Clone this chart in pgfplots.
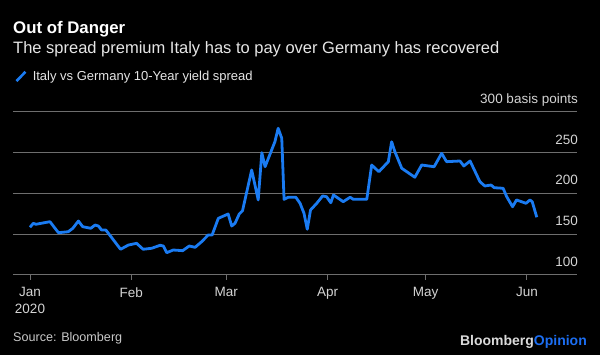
\documentclass[border=0pt]{standalone}
\usepackage{pgfplots}
\pgfplotsset{compat=1.18}
\usepackage{fontspec}
\setmainfont{Liberation Sans}
\definecolor{lineblue}{HTML}{1A7BF2}
\definecolor{gridgray}{HTML}{6E6E6E}
\definecolor{ticktext}{HTML}{D4D4D4}
\definecolor{subgray}{HTML}{E6E6E6}
\definecolor{srcgray}{HTML}{C8C8C8}
\definecolor{bbgray}{HTML}{DADADA}
\definecolor{opblue}{HTML}{1C6EF2}

\pgfplotstableread{
day value
0 158.4
1.0 163.3
1.8 162.1
6.1 165.3
8.7 151.8
11.7 153.0
13.1 157.2
14.8 166.1
16.1 159.2
18.6 157.2
19.9 161.2
20.9 160.0
21.9 155.1
23.2 155.1
27.7 131.5
30.1 136.7
32.6 138.8
34.6 131.5
37.2 132.7
39.8 136.4
40.8 135.5
41.8 127.3
43.8 130.6
46.7 129.8
48.7 135.5
50.5 133.9
52.5 140.8
54.5 149.0
55.7 149.0
57.6 169.4
60.6 174.7
61.7 160.0
62.7 163.3
64.0 174.7
65.0 178.7
67.8 228.6
69.8 191.9
70.9 249.8
71.9 232.6
74.9 263.2
75.9 279.7
77.0 267.4
77.7 192.7
79.0 195.2
81.3 195.2
82.6 187.8
83.8 175.6
84.8 156.0
85.8 179.6
87.7 187.8
89.5 196.8
90.7 195.9
92.0 188.5
92.8 198.0
95.8 189.8
97.9 195.2
98.9 192.7
103.0 192.7
104.5 234.7
106.7 226.5
109.6 238.8
110.6 263.2
111.6 251.0
113.7 230.7
117.7 219.7
119.8 234.7
123.6 232.6
125.9 249.0
127.4 238.8
131.5 239.6
132.7 233.5
134.6 239.6
137.6 214.3
139.1 209.0
141.0 210.2
142.0 206.9
144.7 206.2
145.8 195.9
147.6 183.6
148.8 191.9
151.7 187.8
152.9 191.9
153.6 189.8
155.0 170.7
}\spreaddata

\begin{document}
\begin{tikzpicture}[x=1pt,y=1pt]
\path[use as bounding box, fill=black] (0,0) rectangle (600,355);
\begin{axis}[
  at={(13pt,80pt)}, anchor=south west,
  scale only axis, width=564pt, height=163.3pt,
  xmin=-5.2, xmax=167.3, ymin=100, ymax=300,
  axis x line*=bottom, axis y line*=right,
  x axis line style={gridgray, line width=1pt},
  y axis line style={draw=none},
  xtick={0,31,60,91,121,152},
  xticklabels={{Jan\\2020},Feb,Mar,Apr,May,Jun},
  xtick style={gridgray, line width=1pt},
  tick align=outside, major tick length=5pt,
  xticklabel style={align=center, font=\fontsize{13.5}{17}\selectfont, text=ticktext, yshift=-4pt},
  ytick={100,150,200,250,300},
  yticklabels={100,150,200,250,300 basis points},
  ytick style={draw=none},
  yticklabel style={anchor=base east, inner sep=0pt, font=\fontsize{13.5}{16}\selectfont, text=ticktext, xshift=-4pt, yshift=8.5pt},
  ymajorgrids, grid style={gridgray, line width=1pt},
  /pgf/number format/assume math mode=true,
  legend style={at={(0.0035,1.2155)}, anchor=west, draw=none, fill=none, inner sep=0pt,
    font=\fontsize{13}{15}\selectfont, text=subgray,
    /tikz/every odd column/.append style={column sep=4pt}},
  legend cell align=left,
  legend image code/.code={\draw[lineblue, line width=2.6pt] (0pt,-4.6pt) -- (9pt,4.7pt);},
]
\addplot[lineblue, line width=2.8pt, line join=round] table[x=day, y=value] {\spreaddata};
\addlegendentry{Italy vs Germany 10-Year yield spread}
\end{axis}
\node[anchor=base west, inner sep=0pt, font=\fontsize{16.8}{20}\selectfont\bfseries, text=white] at (13,321) {Out of Danger};
\node[anchor=base west, inner sep=0pt, font=\fontsize{16.5}{20}\selectfont, text=subgray] at (13,301) {The spread premium Italy has to pay over Germany has recovered};
\node[anchor=base west, inner sep=0pt, font=\fontsize{12.6}{15}\selectfont, text=srcgray] at (13,13.3) {Source: Bloomberg};
\node[anchor=base east, inner sep=0pt, font=\fontsize{14}{16}\selectfont\bfseries] at (587,9) {\textcolor{bbgray}{Bloomberg}\textcolor{opblue}{Opinion}};
\end{tikzpicture}
\end{document}
